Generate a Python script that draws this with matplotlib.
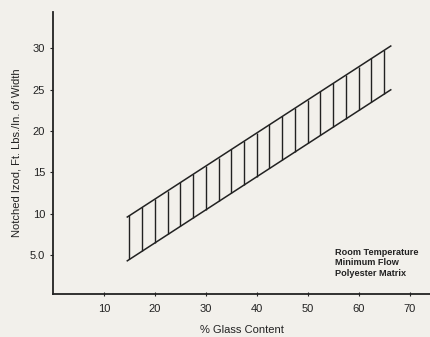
import matplotlib
matplotlib.use('Agg')
import matplotlib.pyplot as plt

plt.rcParams['font.family'] = ['Liberation Sans', 'DejaVu Sans']

# Band edges (% glass, notched Izod)
edge_x = [14.6, 66.3]
upper_edge = [9.6, 30.3]
lower_edge = [4.3, 25.0]

# Hatch lines across the band
hatch_x = [15, 17.5, 20, 22.5, 25, 27.5, 30, 32.5, 35, 37.5, 40,
           42.5, 45, 47.5, 50, 52.5, 55, 57.5, 60, 62.5, 65]
hatch_hi = [9.8, 10.8, 11.8, 12.8, 13.8, 14.8, 15.8, 16.8, 17.8, 18.8, 19.8,
            20.8, 21.8, 22.8, 23.8, 24.8, 25.8, 26.8, 27.8, 28.8, 29.8]
hatch_lo = [4.5, 5.5, 6.5, 7.5, 8.5, 9.5, 10.5, 11.5, 12.5, 13.5, 14.5,
            15.5, 16.5, 17.5, 18.5, 19.5, 20.5, 21.5, 22.5, 23.5, 24.5]

x_ticks = [10, 20, 30, 40, 50, 60, 70]
y_ticks = [5, 10, 15, 20, 25, 30]
y_labels = ['5.0', '10', '15', '20', '25', '30']

bg = '#f2f0eb'
ink = '#222222'

fig = plt.figure(figsize=(4.3, 3.37), dpi=100, facecolor=bg)
ax = fig.add_axes([0.123, 0.128, 0.877, 0.836], facecolor=bg)

ax.plot(edge_x, upper_edge, color=ink, lw=1.1)
ax.plot(edge_x, lower_edge, color=ink, lw=1.1)
ax.vlines(hatch_x, hatch_lo, hatch_hi, color=ink, lw=1.0)

ax.set_xlim(0, 74)
ax.set_ylim(0.3, 34.4)
ax.set_xticks(x_ticks)
ax.set_yticks(y_ticks)
ax.set_yticklabels(y_labels)

for s in ['top', 'right']:
    ax.spines[s].set_visible(False)
for s in ['left', 'bottom']:
    ax.spines[s].set_color(ink)
    ax.spines[s].set_linewidth(1.3)

ax.tick_params(axis='both', colors=ink, labelsize=8, length=2.5, width=0.8)
ax.tick_params(axis='x', direction='inout', pad=6)
ax.tick_params(axis='y', pad=3)

ax.set_xlabel('% Glass Content', fontsize=8, color=ink, labelpad=8)
ax.set_ylabel('Notched Izod, Ft. Lbs./In. of Width', fontsize=8, color=ink, labelpad=6)

ax.text(55.3, 5.9, 'Room Temperature\nMinimum Flow\nPolyester Matrix',
        fontsize=6.6, fontweight='bold', color=ink, va='top', ha='left',
        linespacing=1.25)

fig.savefig('out.png', dpi=100, facecolor=bg)
